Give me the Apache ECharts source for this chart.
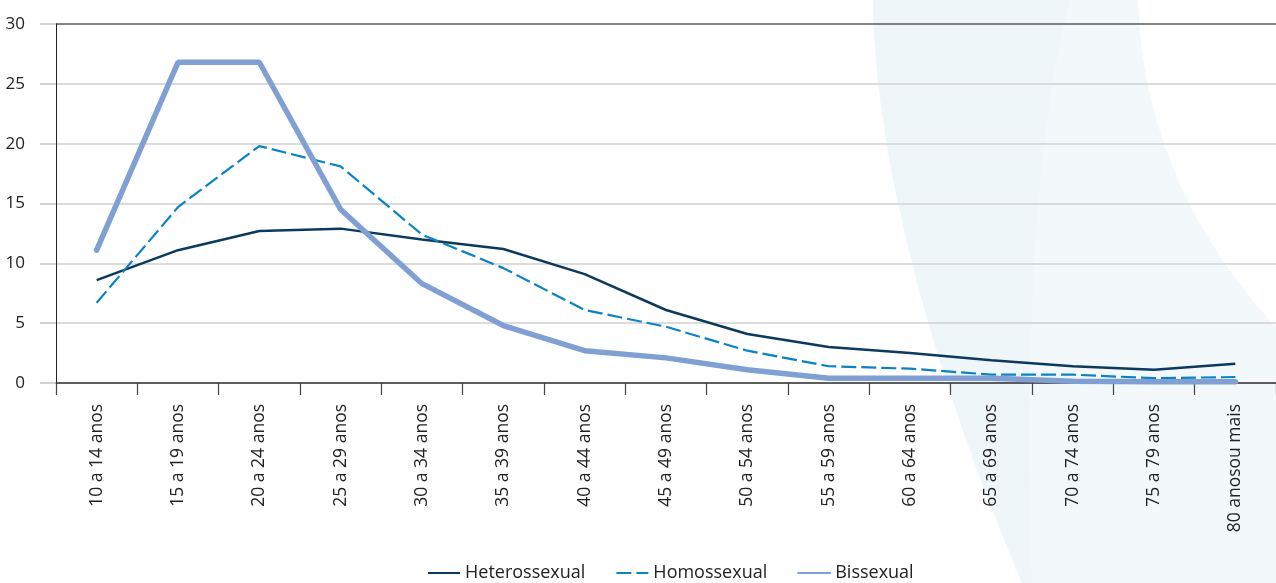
<!DOCTYPE html>
<html>
<head>
  <meta charset="utf-8">
  <script src="https://cdn.jsdelivr.net/npm/echarts@6/dist/echarts.min.js"></script>
</head>
<body style="margin:0">
  <div id="container" style="height: 583px; width: 1276px"></div>
  <script>
    var faixas = ['10 a 14 anos', '15 a 19 anos', '20 a 24 anos', '25 a 29 anos', '30 a 34 anos',
      '35 a 39 anos', '40 a 44 anos', '45 a 49 anos', '50 a 54 anos', '55 a 59 anos',
      '60 a 64 anos', '65 a 69 anos', '70 a 74 anos', '75 a 79 anos', '80 anosou mais'];
    var hetero = [8.6, 11.1, 12.7, 12.9, 12.0, 11.2, 9.1, 6.1, 4.1, 3.0, 2.5, 1.9, 1.4, 1.1, 1.6];
    var homo = [6.7, 14.7, 19.8, 18.1, 12.4, 9.6, 6.1, 4.7, 2.7, 1.4, 1.2, 0.7, 0.7, 0.4, 0.5];
    var bi = [11.1, 26.8, 26.8, 14.5, 8.3, 4.8, 2.7, 2.1, 1.1, 0.4, 0.4, 0.4, 0.15, 0.1, 0.1];

    // faixa decorativa do fundo (curva de bezier amostrada)
    function bez(p0, p1, p2, p3) {
      var pts = [];
      for (var i = 0; i <= 30; i++) {
        var t = i / 30, u = 1 - t;
        pts.push([
          u*u*u*p0[0] + 3*u*u*t*p1[0] + 3*u*t*t*p2[0] + t*t*t*p3[0],
          u*u*u*p0[1] + 3*u*u*t*p1[1] + 3*u*t*t*p2[1] + t*t*t*p3[1]
        ]);
      }
      return pts;
    }
    var bordaEsq = bez([873, 0], [874, 130], [915, 330], [1022, 583]);
    var bordaDir = bez([1276, 327], [1195, 240], [1142, 130], [1138, 0]);
    var bordaMeio = bez([1032, 583], [1026, 380], [1030, 150], [1070, 0]);
    var formaFundo = bordaEsq.concat([[1276, 583]], bordaDir);
    var formaFaixa = bordaEsq.concat(bordaMeio);

    var dom = document.getElementById('container');
    var myChart = echarts.init(dom);
    var fonte = '"Open Sans", "Noto Sans", sans-serif';

    option = {
      animation: false,
      textStyle: { fontFamily: fonte },
      graphic: [
        {
          type: 'polygon', z: -10, silent: true,
          shape: { points: formaFundo },
          style: { fill: '#f3f8fb' }
        },
        {
          type: 'polygon', z: -9, silent: true,
          shape: { points: formaFaixa },
          style: { fill: '#eff6fa' }
        }
      ],
      legend: {
        bottom: -4,
        left: 422,
        itemWidth: 32,
        itemHeight: 14,
        itemGap: 30,
        itemStyle: { opacity: 0 },
        textStyle: { fontSize: 18, color: '#222', fontFamily: fonte },
        data: ['Heterossexual', 'Homossexual', 'Bissexual']
      },
      grid: { left: 56, right: -13, top: 24, bottom: 200 },
      xAxis: {
        type: 'category',
        data: faixas,
        boundaryGap: true,
        axisLine: { lineStyle: { color: '#333', width: 1.5 } },
        axisTick: { show: true, length: 12, lineStyle: { color: '#444', width: 1.2 } },
        axisLabel: { rotate: 90, margin: 21, fontSize: 17.5, color: '#222', interval: 0 }
      },
      yAxis: {
        type: 'value',
        min: 0, max: 30, interval: 5,
        axisLine: { show: true, lineStyle: { color: '#222', width: 1 } },
        axisTick: { show: true, length: 16, lineStyle: { color: '#c4c4c4', width: 1.5 } },
        axisLabel: { fontSize: 17, color: '#222', margin: 31 },
        splitLine: { lineStyle: { color: ['#d0d0d0', '#d0d0d0', '#d0d0d0', '#d0d0d0', '#d0d0d0', '#d0d0d0', '#5a5a5a'], width: 1.5 } }
      },
      series: [
        {
          name: 'Heterossexual', type: 'line', data: hetero, symbol: 'none',
          itemStyle: { color: '#0c3a5e' },
          lineStyle: { color: '#0c3a5e', width: 2.5 }
        },
        {
          name: 'Homossexual', type: 'line', data: homo, symbol: 'none',
          itemStyle: { color: '#0a82c4' },
          lineStyle: { color: '#0a82c4', width: 2.2, type: [15, 5] }
        },
        {
          name: 'Bissexual', type: 'line', data: bi, symbol: 'none',
          itemStyle: { color: '#80a0d4' },
          lineStyle: { color: '#80a0d4', width: 5.5, cap: 'round' }
        }
      ]
    };
    myChart.setOption(option);
    window.addEventListener('resize', myChart.resize);
  </script>
</body>
</html>
